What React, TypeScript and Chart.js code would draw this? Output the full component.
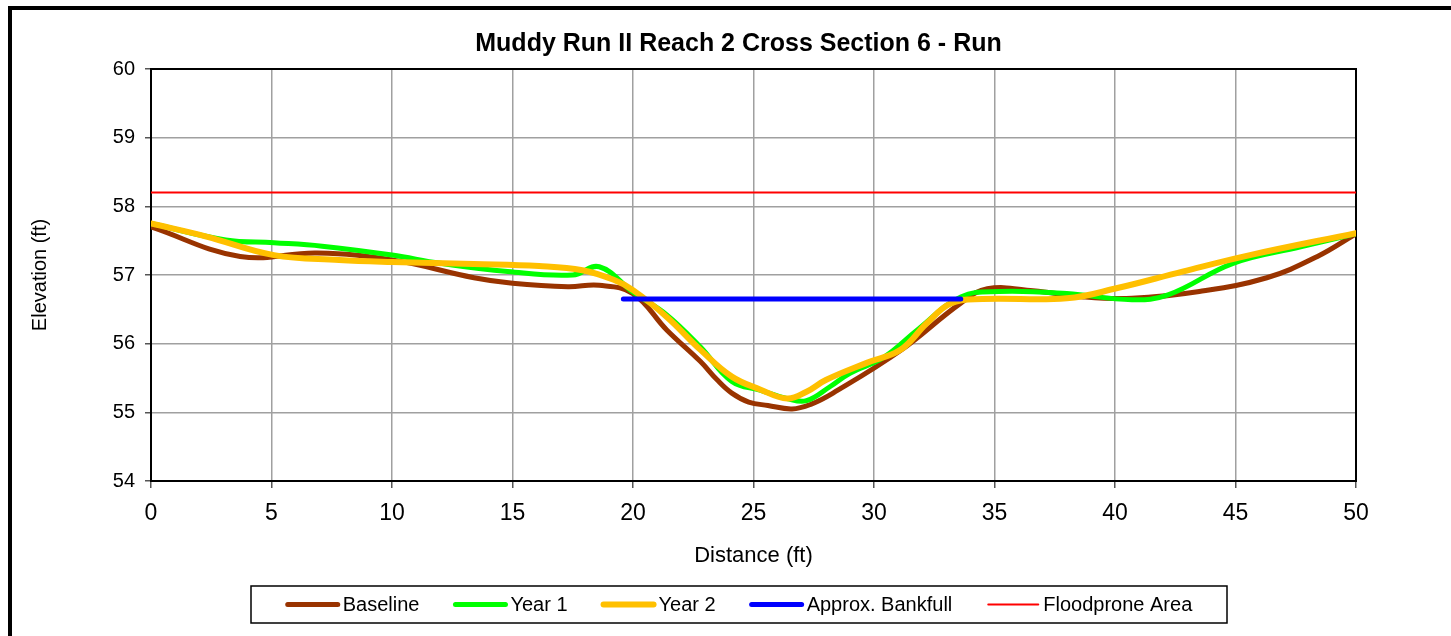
import React, { useEffect, useRef } from "react";
import { Chart, registerables } from "chart.js";
Chart.register(...registerables);

const TITLE = "Muddy Run II Reach 2 Cross Section 6 - Run";
const X_TITLE = "Distance (ft)";
const Y_TITLE = "Elevation (ft)";

const baselineX = [0, 3.7, 6.9, 10, 13.4, 15, 17.3, 18.6, 20, 21.4, 22.8, 23.5, 24.1, 24.8, 25.6, 26.6, 27.4, 28.3, 31.1, 33.6, 34.7, 36.6, 38.7, 40.7, 43.5, 46.3, 48.4, 50];
const baselineY = [57.7, 57.27, 57.32, 57.22, 56.96, 56.88, 56.83, 56.85, 56.73, 56.2, 55.74, 55.47, 55.28, 55.15, 55.1, 55.05, 55.12, 55.28, 55.9, 56.59, 56.8, 56.77, 56.68, 56.66, 56.76, 56.96, 57.27, 57.6];

const year1X = [0, 3.1, 5.1, 7.1, 10, 12, 14.8, 17.5, 18.6, 20, 21.4, 22.8, 24.1, 25.3, 26.4, 27.2, 28.2, 29, 30.4, 31.8, 33.6, 35.2, 38, 40.7, 42.2, 44.9, 47.7, 50];
const year1Y = [57.75, 57.51, 57.47, 57.42, 57.29, 57.17, 57.05, 57.0, 57.12, 56.75, 56.42, 55.95, 55.45, 55.32, 55.2, 55.17, 55.38, 55.57, 55.8, 56.2, 56.68, 56.76, 56.73, 56.64, 56.71, 57.17, 57.41, 57.6];

const year2X = [0, 2.3, 5.1, 7.8, 10, 13.4, 16.1, 17.9, 19.2, 20, 21.4, 22.8, 24.1, 25.3, 26.4, 27.2, 28, 29.7, 31.1, 32.2, 33.2, 34.5, 38, 40.1, 42.8, 45.6, 50];
const year2Y = [57.75, 57.56, 57.29, 57.22, 57.19, 57.16, 57.13, 57.07, 56.93, 56.78, 56.39, 55.91, 55.52, 55.33, 55.2, 55.3, 55.47, 55.72, 55.91, 56.3, 56.59, 56.65, 56.66, 56.81, 57.05, 57.29, 57.61];

const bankfullX = [19.6, 33.6];
const bankfullY = [56.65, 56.65];

const floodX = [0, 50];
const floodY = [58.2, 58.2];

const X_MIN = 0, X_MAX = 50, X_STEP = 5;
const Y_MIN = 54, Y_MAX = 60, Y_STEP = 1;

const FONT = "Arial, 'Liberation Sans', sans-serif";

function pts(xs: number[], ys: number[]) {
  return xs.map((x, i) => ({ x, y: ys[i] }));
}

const decorPlugin = {
  id: "decor",
  beforeDatasetsDraw(chart: any) {
    const { ctx, chartArea: ca } = chart;
    ctx.save();
    ctx.strokeStyle = "#000";
    ctx.lineWidth = 2;
    ctx.strokeRect(ca.left, ca.top, ca.right - ca.left, ca.bottom - ca.top);
    ctx.restore();
  },
  afterDraw(chart: any) {
    const { ctx, chartArea: ca } = chart;
    ctx.save();
    // title
    ctx.font = `bold 25px ${FONT}`;
    ctx.fillStyle = "#000";
    ctx.textAlign = "center";
    ctx.textBaseline = "middle";
    ctx.fillText(TITLE, (ca.left + ca.right) / 2 - 15, ca.top - 25);

    // legend box
    const boxL = 251, boxT = ca.bottom + 105, boxW = 976, boxH = 37;
    ctx.strokeStyle = "#000";
    ctx.lineWidth = 1.5;
    ctx.strokeRect(boxL, boxT, boxW, boxH);
    ctx.font = `20px ${FONT}`;
    ctx.textAlign = "left";
    const ds = chart.data.datasets;
    const lineLen = 54, gapText = 3, gapItem = 34;
    const widths = ds.map((d: any) => lineLen + gapText + ctx.measureText(d.label).width);
    const total = widths.reduce((a: number, b: number) => a + b, 0) + gapItem * (ds.length - 1);
    let x = boxL + (boxW - total) / 2;
    const cy = boxT + boxH / 2;
    ds.forEach((d: any, i: number) => {
      ctx.strokeStyle = d.borderColor;
      ctx.lineWidth = d.borderWidth;
      ctx.lineCap = "round";
      ctx.beginPath();
      ctx.moveTo(x + 2, cy);
      ctx.lineTo(x + lineLen - 2, cy);
      ctx.stroke();
      ctx.fillStyle = "#000";
      ctx.fillText(d.label, x + lineLen + gapText, cy + 1);
      x += widths[i] + gapItem;
    });
    ctx.restore();
  },
};

export default function App() {
  const ref = useRef<HTMLCanvasElement>(null);
  useEffect(() => {
    if (!ref.current) return;
    const common = {
      showLine: true,
      pointRadius: 0,
      pointHoverRadius: 0,
      fill: false,
      tension: 0.4,
      borderCapStyle: "round" as const,
      borderJoinStyle: "round" as const,
    };
    const chart = new Chart(ref.current, {
      type: "scatter",
      data: {
        datasets: [
          { ...common, label: "Baseline", data: pts(baselineX, baselineY), borderColor: "#993300", backgroundColor: "#993300", borderWidth: 5, order: 5 },
          { ...common, label: "Year 1", data: pts(year1X, year1Y), borderColor: "#00FF00", backgroundColor: "#00FF00", borderWidth: 5, order: 4 },
          { ...common, label: "Year 2", data: pts(year2X, year2Y), borderColor: "#FFC000", backgroundColor: "#FFC000", borderWidth: 6, order: 3 },
          { ...common, label: "Approx. Bankfull", data: pts(bankfullX, bankfullY), borderColor: "#0000FF", backgroundColor: "#0000FF", borderWidth: 5, tension: 0, order: 2 },
          { ...common, label: "Floodprone Area", data: pts(floodX, floodY), borderColor: "#FF0000", backgroundColor: "#FF0000", borderWidth: 2, tension: 0, borderCapStyle: "butt", order: 1 },
        ],
      },
      options: {
        animation: false,
        responsive: false,
        maintainAspectRatio: false,
        layout: { padding: { left: 0, top: 69, right: 95, bottom: 55 } },
        plugins: { legend: { display: false }, title: { display: false }, tooltip: { enabled: false } },
        scales: {
          x: {
            type: "linear",
            min: X_MIN,
            max: X_MAX,
            ticks: { stepSize: X_STEP, color: "#000", font: { family: FONT, size: 23 }, padding: 12, maxRotation: 0 },
            grid: { color: "#a0a0a0", lineWidth: 1.5, tickLength: 7, tickColor: "#555" },
            border: { color: "#000", width: 2 },
            title: { display: true, text: X_TITLE, color: "#000", font: { family: FONT, size: 22 }, padding: { top: 0, bottom: 12 } },
            afterFit: (s: any) => { s.height = 100; },
          },
          y: {
            type: "linear",
            min: Y_MIN,
            max: Y_MAX,
            ticks: { stepSize: Y_STEP, color: "#000", font: { family: FONT, size: 20 }, padding: 10 },
            grid: { color: "#a0a0a0", lineWidth: 1.5, tickLength: 6, tickColor: "#555" },
            border: { color: "#000", width: 2 },
            title: { display: true, text: Y_TITLE, color: "#000", font: { family: FONT, size: 20 }, padding: { top: 28, bottom: 0 } },
            afterFit: (s: any) => { s.width = 151; },
          },
        },
      },
      plugins: [decorPlugin],
    });
    return () => chart.destroy();
  }, []);
  return (
    <div style={{ position: "fixed", left: 0, top: 0, width: 1451, height: 636, overflow: "hidden", background: "#fff" }}>
      <canvas ref={ref} width={1451} height={636} style={{ position: "absolute", left: 0, top: 0, width: 1451, height: 636 }} />
      <div style={{ position: "absolute", left: 8, top: 6, width: 1500, height: 700, border: "4px solid #000", pointerEvents: "none", boxSizing: "border-box" }} />
    </div>
  );
}
